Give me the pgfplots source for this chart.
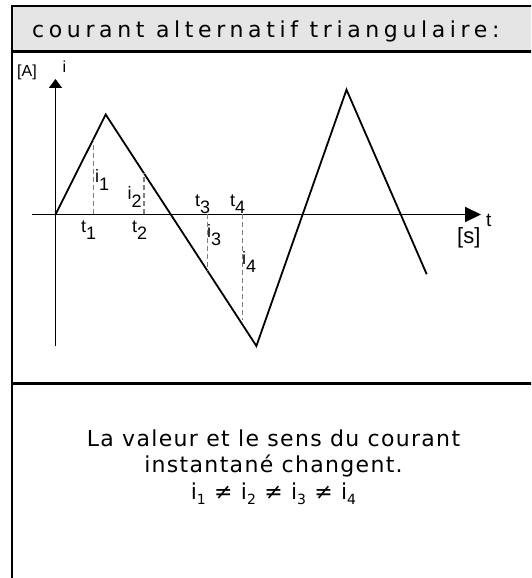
\documentclass[border=0pt]{standalone}
\usepackage{fontspec}
\setmainfont{Liberation Sans}
\newfontfamily\tfont[LetterSpace=21]{DejaVu Sans}
\newfontfamily\bfont[LetterSpace=6]{DejaVu Sans}
\usepackage{pgfplots}
\pgfplotsset{compat=1.18}
\usetikzlibrary{arrows.meta}
\newcommand{\lab}[2]{#1\raisebox{-0.4em}{#2}}
\newcommand{\isub}[1]{i\raisebox{-0.22em}{\fontsize{14}{14}\selectfont #1}}
\begin{document}
\begin{tikzpicture}[x=1pt,y=1pt]
\useasboundingbox (0,0) rectangle (531,578);
\clip (0,0) rectangle (531,578);
\fill[black!10] (12,572) rectangle (540,526.5);
\draw[line width=2.5pt] (12,-10) -- (12,572) -- (540,572);
\draw[line width=2.5pt] (12,526.5) -- (540,526.5);
\draw[line width=2.5pt] (12,194.5) -- (540,194.5);
\node[anchor=base west, font=\tfont\fontsize{22}{22}\selectfont, inner sep=0] at (32,540.7) {courant alternatif triangulaire:};
\begin{axis}[at={(32pt,232pt)}, anchor=south west, scale only axis,
  width=449pt, height=267pt,
  xmin=-23.5, xmax=425.5, ymin=-131.5, ymax=135.5,
  axis lines=middle, ticks=none, clip=false,
  x axis line style={line width=1.8pt, -{Triangle[length=16pt,width=15pt]}},
  y axis line style={line width=1.8pt, -{Triangle[length=9pt,width=13pt]}}]
\addplot[black, line width=1.8pt] coordinates {(0,0) (50.2,100) (200.9,-131.5) (291,124.8) (371.2,-59.7)};
\addplot[gray, line width=1.1pt, dash pattern=on 5pt off 3pt] coordinates {(37.6,0) (37.6,74.9)};
\addplot[gray, line width=1.1pt, dash pattern=on 5pt off 3pt] coordinates {(88.5,0) (88.5,41.2)};
\addplot[gray, line width=1.1pt, dash pattern=on 5pt off 3pt] coordinates {(151.8,0) (151.8,-56.1)};
\addplot[gray, line width=1.1pt, dash pattern=on 5pt off 3pt] coordinates {(187.3,0) (187.3,-106)};
\end{axis}
\begin{scope}[every node/.style={anchor=base west, inner sep=0, font=\fontsize{18}{18}\selectfont}]
\node[font=\fontsize{16}{16}\selectfont] at (17,501) {[A]};
\node[font=\fontsize{16}{16}\selectfont] at (62.5,505.5) {i};
\node[font=\fontsize{19}{19}\selectfont] at (486,351) {t};
\node[font=\fontsize{22}{22}\selectfont] at (457,334) {[s]};
\node at (95,395) {\lab{i}{1}};
\node at (127.5,378) {\lab{i}{2}};
\node at (81,345.5) {\lab{t}{1}};
\node at (132,345.5) {\lab{t}{2}};
\node at (195,371.5) {\lab{t}{3}};
\node at (230,371.5) {\lab{t}{4}};
\node at (207,340) {\lab{i}{3}};
\node at (242,313) {\lab{i}{4}};
\end{scope}
\begin{scope}[every node/.style={anchor=base, inner sep=0, font=\bfont\fontsize{22}{22}\selectfont}]
\node at (273.5,131.8) {La valeur et le sens du courant};
\node at (273.5,105.4) {instantané changent.};
\node at (273.5,78.3) {\isub{1} ≠ \isub{2} ≠ \isub{3} ≠ \isub{4}};
\end{scope}
\end{tikzpicture}
\end{document}
